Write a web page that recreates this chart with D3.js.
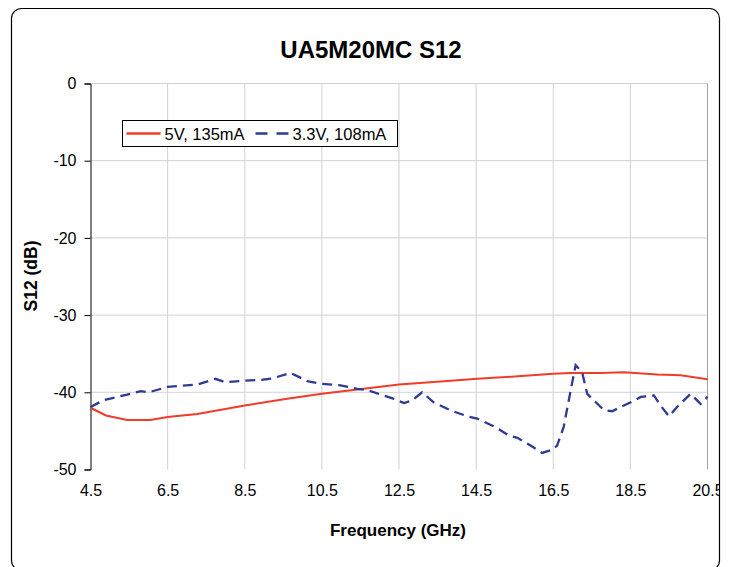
<!DOCTYPE html>
<html>
<head>
<meta charset="utf-8">
<script src="https://cdn.jsdelivr.net/npm/d3@7"></script>
<style>
  body { margin: 0; background: #fff; }
  text { font-family: "Liberation Sans", Arial, sans-serif; }
</style>
</head>
<body>
<div id="chart"></div>
<script>
// frequency ticks and dB ticks
const xTicks = [4.5, 6.5, 8.5, 10.5, 12.5, 14.5, 16.5, 18.5, 20.5];
const yTicks = [0, -10, -20, -30, -40, -50];

// 5V, 135mA
const freq5V = [4.5, 4.9, 5.45, 6.05, 6.5, 7.27, 8.5, 9.6, 10.5, 11.42, 12.5, 13.58, 14.53, 15.5, 16.5, 16.95, 17.73, 18.33, 19.2, 19.8, 20.5];
const s12_5V = [-42.0, -43.0, -43.6, -43.6, -43.2, -42.8, -41.7, -40.85, -40.2, -39.65, -39.0, -38.6, -38.25, -37.95, -37.6, -37.5, -37.5, -37.4, -37.7, -37.8, -38.3];

// 3.3V, 108mA
const freq33V = [4.5, 4.85, 5.45, 5.8, 6.01, 6.5, 7.27, 7.74, 8.0, 8.48, 8.91, 9.21, 9.69, 9.9, 10.12, 10.46, 10.98, 11.42, 11.67, 12.37, 12.63, 12.84, 13.1, 13.4, 13.84, 14.27, 14.53, 14.87, 15.05, 15.35, 15.57, 15.91, 16.21, 16.47, 16.6, 16.77, 16.95, 17.08, 17.25, 17.38, 17.81, 18.03, 18.25, 18.51, 18.77, 19.11, 19.28, 19.5, 19.71, 20.06, 20.32, 20.5];
const s12_33V = [-41.9, -41.0, -40.3, -39.85, -40.0, -39.3, -39.0, -38.25, -38.7, -38.5, -38.4, -38.2, -37.5, -38.0, -38.55, -38.9, -39.1, -39.55, -39.7, -40.85, -41.4, -41.05, -40.0, -41.3, -42.35, -43.1, -43.4, -44.2, -44.65, -45.6, -45.9, -46.9, -47.85, -47.45, -46.9, -44.5, -39.8, -36.5, -37.4, -40.2, -42.3, -42.45, -41.9, -41.3, -40.6, -40.4, -41.7, -43.1, -41.9, -40.2, -41.5, -40.6];

const series = [
  { name: "5V, 135mA", x: freq5V, y: s12_5V, color: "#f03c2a", dash: null },
  { name: "3.3V, 108mA", x: freq33V, y: s12_33V, color: "#2e3a94", dash: "10,6" }
];

const width = 735, height = 567;

const svg = d3.select("#chart").append("svg")
  .attr("width", width)
  .attr("height", height);

// outer rounded frame (bottom runs to the window edge)
svg.append("rect")
  .attr("x", 11.5).attr("y", 8.5)
  .attr("width", 708).attr("height", 562)
  .attr("rx", 10).attr("ry", 10)
  .style("fill", "none")
  .style("stroke", "#000")
  .style("stroke-width", 1.2);

const x = d3.scaleLinear().domain([4.5, 20.5]).range([90.5, 707.5]);
const y = d3.scaleLinear().domain([-50, 0]).range([469.5, 83.5]);

const x0 = x(4.5), x1 = x(20.5), y0 = y(-50), y1 = y(0);

// grid
svg.append("g").selectAll("line")
  .data(xTicks.slice(1, -1))
  .enter().append("line")
  .attr("x1", d => x(d)).attr("x2", d => x(d))
  .attr("y1", y1).attr("y2", y0)
  .style("stroke", "#d2d2d2").style("stroke-width", 1);

svg.append("g").selectAll("line")
  .data(yTicks.slice(0, -1))
  .enter().append("line")
  .attr("x1", x0).attr("x2", x1)
  .attr("y1", d => y(d)).attr("y2", d => y(d))
  .style("stroke", "#d2d2d2").style("stroke-width", 1);

// right border of plot area
svg.append("line")
  .attr("x1", x1).attr("x2", x1).attr("y1", y1).attr("y2", y0)
  .style("stroke", "#a0a0a0");

// axes
svg.append("clipPath").attr("id", "frame")
  .append("rect").attr("x", 11).attr("y", 8).attr("width", 709).attr("height", 570);

const xAxis = svg.append("g")
  .attr("transform", `translate(0,${y0})`)
  .attr("clip-path", "url(#frame)")
  .call(d3.axisBottom(x).tickValues(xTicks).tickFormat(d3.format(".1f")).tickSizeOuter(0).tickSize(6).tickPadding(9));
xAxis.select(".domain").style("stroke", "#000");
xAxis.selectAll(".tick line").style("stroke", "#000");
xAxis.selectAll("text").style("font-size", "16px").style("fill", "#000");

const yAxis = svg.append("g")
  .attr("transform", `translate(${x0},0)`)
  .call(d3.axisLeft(y).tickValues(yTicks).tickFormat(d => String(d)).tickSizeOuter(0).tickSize(6).tickPadding(8));
yAxis.select(".domain").style("stroke", "#000");
yAxis.selectAll("text").style("font-size", "16px").style("fill", "#000");

// lines
const line = d3.line()
  .x(d => x(d[0]))
  .y(d => y(d[1]));

series.forEach(s => {
  svg.append("path")
    .datum(d3.zip(s.x, s.y))
    .attr("d", line)
    .style("fill", "none")
    .style("stroke", s.color)
    .style("stroke-width", s.dash ? 2.3 : 2)
    .style("stroke-dasharray", s.dash);
});

// title and axis labels
svg.append("text")
  .attr("x", 371).attr("y", 58)
  .attr("text-anchor", "middle")
  .style("font-size", "24px").style("font-weight", "bold")
  .text("UA5M20MC S12");

svg.append("text")
  .attr("x", 398).attr("y", 536)
  .attr("text-anchor", "middle")
  .style("font-size", "17px").style("font-weight", "bold")
  .text("Frequency (GHz)");

svg.append("text")
  .attr("transform", `translate(37,276) rotate(-90)`)
  .attr("text-anchor", "middle")
  .style("font-size", "17.5px").style("font-weight", "bold")
  .text("S12 (dB)");

// legend
const legend = svg.append("g").attr("transform", "translate(122.5,120.5)");
legend.append("rect")
  .attr("width", 275).attr("height", 26)
  .style("fill", "#fff").style("stroke", "#000");

const items = [
  { s: series[0], lx: 4, tx: 42 },
  { s: series[1], lx: 133, tx: 170 }
];
items.forEach(it => {
  legend.append("line")
    .attr("x1", it.lx).attr("x2", it.lx + 34)
    .attr("y1", 13).attr("y2", 13)
    .style("stroke", it.s.color).style("stroke-width", 2.3)
    .style("stroke-dasharray", it.s.dash ? "12,9" : null);
  legend.append("text")
    .attr("x", it.tx).attr("y", 19)
    .style("font-size", "16.5px")
    .text(it.s.name);
});
</script>
</body>
</html>
